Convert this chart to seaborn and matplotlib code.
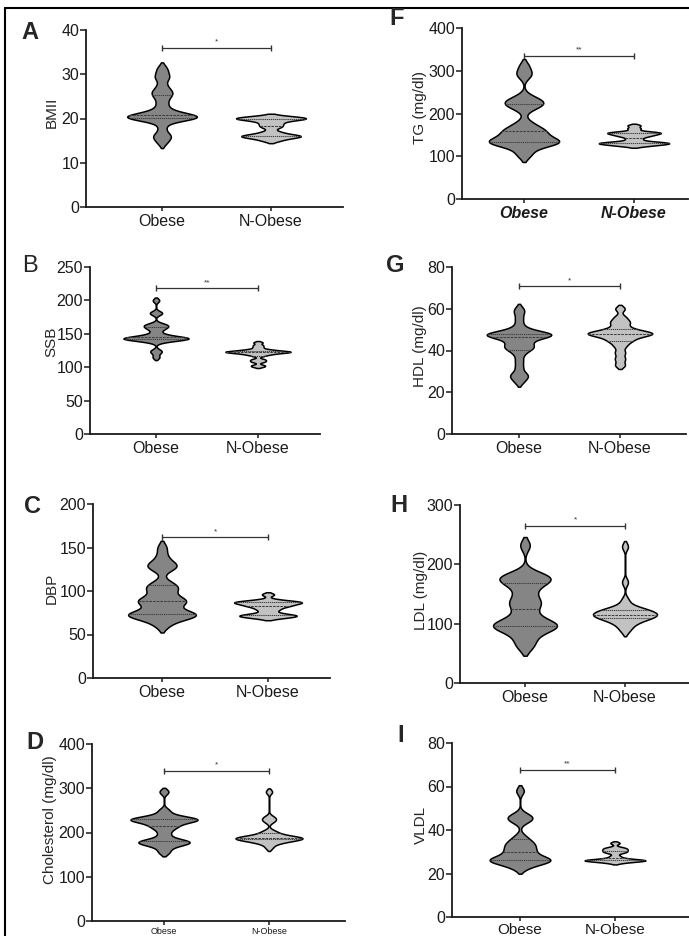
import matplotlib
matplotlib.use("Agg")
import matplotlib.pyplot as plt
import seaborn as sns
import pandas as pd
import numpy as np

groups = ["Obese", "N-Obese"]

# values (approximate per-subject readings)
bmi_obese = [14.5, 15.5, 16, 16.5, 18, 19.5, 20, 20, 20.1, 20.2, 20.3, 20.4, 20.5, 20.5, 20.6,
             20.8, 21, 21.5, 22, 23, 24, 25, 25.5, 26, 26.5, 27.5, 29, 29.5, 30.5, 31.5]
bmi_nobese = [15, 15.5, 15.8, 16, 16, 16.2, 16.5, 17, 18, 18.5, 19, 19.5, 19.8, 20, 20,
              20.1, 20.3, 20.5]
ssb_obese = [115, 122, 125, 138, 140, 141, 142, 142, 143, 143, 143, 144, 144, 145, 146, 148,
             150, 155, 158, 160, 162, 163, 165, 180, 182, 200]
ssb_nobese = [101, 103, 108, 110, 112, 117, 119, 120, 121, 122, 122, 123, 123, 123, 124, 124,
              125, 126, 127, 130, 133, 137]
dbp_obese = [60, 65, 70, 71, 72, 72, 73, 73, 74, 75, 80, 85, 87, 88, 89, 90, 92, 98, 102, 104,
             106, 110, 125, 128, 130, 132, 140, 150]
dbp_nobese = [69, 70, 71, 72, 72, 73, 75, 78, 80, 82, 83, 84, 85, 86, 87, 87, 88, 88, 90, 96]
chol_obese = [155, 165, 172, 175, 176, 178, 180, 182, 185, 195, 205, 212, 215, 220, 224, 226,
              228, 229, 230, 231, 232, 235, 240, 250, 292]
chol_nobese = [166, 175, 178, 180, 182, 184, 185, 186, 187, 187, 188, 188, 189, 190, 192, 195,
               200, 203, 225, 230, 235, 292]
tg_obese = [102, 110, 125, 128, 130, 132, 133, 134, 135, 136, 140, 145, 150, 155, 158, 160, 165,
            170, 180, 210, 218, 222, 225, 228, 232, 240, 288, 296, 312]
tg_nobese = [124, 126, 128, 129, 130, 131, 132, 133, 135, 140, 145, 148, 150, 152, 154, 155,
             156, 158, 165, 172]
hdl_obese = [25, 27, 28, 29, 32, 35, 38, 40, 41, 41.5, 42, 43, 44, 45, 46, 46.5, 47, 47, 47.5,
             47.5, 48, 48, 48, 48.5, 49, 50, 52, 55, 58, 60]
hdl_nobese = [33, 36, 39, 42, 44, 45, 46, 47, 47.5, 48, 48, 48.5, 48.5, 49, 50, 51, 53, 54, 56,
              60]
ldl_obese = [60, 70, 80, 88, 92, 95, 96, 98, 100, 105, 110, 120, 130, 135, 140, 150, 160, 168,
             172, 175, 178, 180, 185, 232]
ldl_nobese = [88, 95, 100, 104, 106, 108, 110, 112, 113, 114, 115, 115, 116, 118, 120, 122, 123,
              124, 125, 130, 140, 170, 230]
vldl_obese = [22.5, 24, 25, 25.5, 26, 26, 26.2, 26.5, 27, 28, 29, 30, 31, 32, 33, 34, 35, 37, 44,
              45, 46, 47, 58]
vldl_nobese = [25, 25.5, 25.8, 26, 26, 26.1, 26.2, 26.5, 27, 28, 29.5, 30, 30.5, 31, 31.5, 32, 34]

letters = ["A", "B", "C", "D", "F", "G", "H", "I"]
ylabels = ["BMII", "SSB", "DBP", "Cholesterol (mg/dl)",
           "TG (mg/dl)", "HDL (mg/dl)", "LDL (mg/dl)", "VLDL"]
obese_sets = [bmi_obese, ssb_obese, dbp_obese, chol_obese, tg_obese, hdl_obese, ldl_obese, vldl_obese]
nobese_sets = [bmi_nobese, ssb_nobese, dbp_nobese, chol_nobese, tg_nobese, hdl_nobese, ldl_nobese,
               vldl_nobese]
ymaxs = [40, 250, 200, 400, 400, 80, 300, 80]
ysteps = [10, 50, 50, 100, 100, 20, 100, 20]
stars = ["*", "**", "*", "*", "**", "*", "*", "**"]
bar_heights = [36, 218, 162, 340, 335, 70.7, 265, 67.6]

# layout in pixels: (y-axis x, x-axis end, top of y range, y of zero), category centres
boxes = [(86, 343, 30, 207), (90, 320, 267, 434), (93, 330, 504, 678), (92, 345, 744, 921),
         (462, 688, 28, 199), (452, 686, 267, 434), (460, 689, 505, 683), (452, 689, 743, 917)]
cats_px = [(162, 271), (156, 258), (162, 268), (164, 269),
           (524, 634), (519, 620), (525, 625), (520, 615)]
letter_px = [(21, 39), (22, 272), (24, 513), (26, 749), (389, 25), (386, 272), (390, 512), (397, 742)]
ylab_px = [(52, 112), (51, 342), (52, 588), (50, 820), (420, 108), (420, 346), (421, 590), (421, 825)]
bw = [0.35, 0.3, 0.4, 0.35, 0.35, 0.35, 0.4, 0.35]

sns.set_style("ticks")
plt.rcParams["font.family"] = ["Liberation Sans", "DejaVu Sans"]

W, H = 689, 936
fig = plt.figure(figsize=(W / 100, H / 100), dpi=100)

for i in range(8):
    x0, x1, yt, yb = boxes[i]
    ax = fig.add_axes([x0 / W, 1 - yb / H, (x1 - x0) / W, (yb - yt) / H])
    df = pd.DataFrame({
        "group": [groups[0]] * len(obese_sets[i]) + [groups[1]] * len(nobese_sets[i]),
        "value": obese_sets[i] + nobese_sets[i],
    })
    sns.violinplot(data=df, x="group", y="value", hue="group", order=groups, hue_order=groups,
                   palette=["#858585", "#c2c2c2"], inner="quart", cut=1.5, density_norm="width",
                   width=0.64, bw_adjust=bw[i], linewidth=1.1, linecolor="black",
                   inner_kws=dict(color="0.25", linewidth=0.75), saturation=1, legend=False, ax=ax)
    pO, pN = cats_px[i]
    s = pN - pO
    ax.set_xlim((x0 - pO) / s, (x1 - pO) / s)
    ax.set_ylim(0, ymaxs[i])
    ax.set_yticks(np.arange(0, ymaxs[i] + 1, ysteps[i]))
    ax.set_xlabel("")
    ax.set_ylabel("")
    sns.despine(ax=ax)
    for sp in ["left", "bottom"]:
        ax.spines[sp].set_linewidth(1.3)
        ax.spines[sp].set_color("#1a1a1a")
    ax.tick_params(axis="y", length=4, width=1.1, labelsize=11.5, pad=1, colors="#1a1a1a")
    ax.tick_params(axis="x", length=3, width=1.1, labelsize=11.5, pad=2, colors="#1a1a1a")
    if letters[i] == "D":
        ax.tick_params(axis="x", labelsize=6.5, pad=1.5)
    if letters[i] == "I":
        ax.tick_params(axis="x", labelsize=11, pad=1)
    if letters[i] == "F":
        for t in ax.get_xticklabels():
            t.set_fontweight("bold")
            t.set_fontstyle("italic")

    # significance bar
    bh = bar_heights[i]
    ax.plot([0, 1], [bh, bh], color="#333333", lw=0.9, marker="|", markersize=4, mew=1.0,
            clip_on=False)
    ax.text(0.5, bh + ymaxs[i] * 0.012, stars[i], ha="center", va="bottom", fontsize=6,
            color="#333333")

    lx, ly = letter_px[i]
    fig.text(lx / W, 1 - ly / H, letters[i], fontsize=17,
             fontweight="normal" if letters[i] == "B" else "bold", ha="left", va="baseline")
    tx, ty = ylab_px[i]
    fig.text(tx / W, 1 - ty / H, ylabels[i], rotation=90, ha="center", va="center",
             fontsize=11)

# frame lines of the original figure
fig.add_artist(plt.Line2D([5 / W, 5 / W], [0, 1 - 8 / H], color="black", lw=1.5))
fig.add_artist(plt.Line2D([5 / W, 1], [1 - 8 / H, 1 - 8 / H], color="black", lw=1.5))

fig.savefig("out.png", dpi=100)
